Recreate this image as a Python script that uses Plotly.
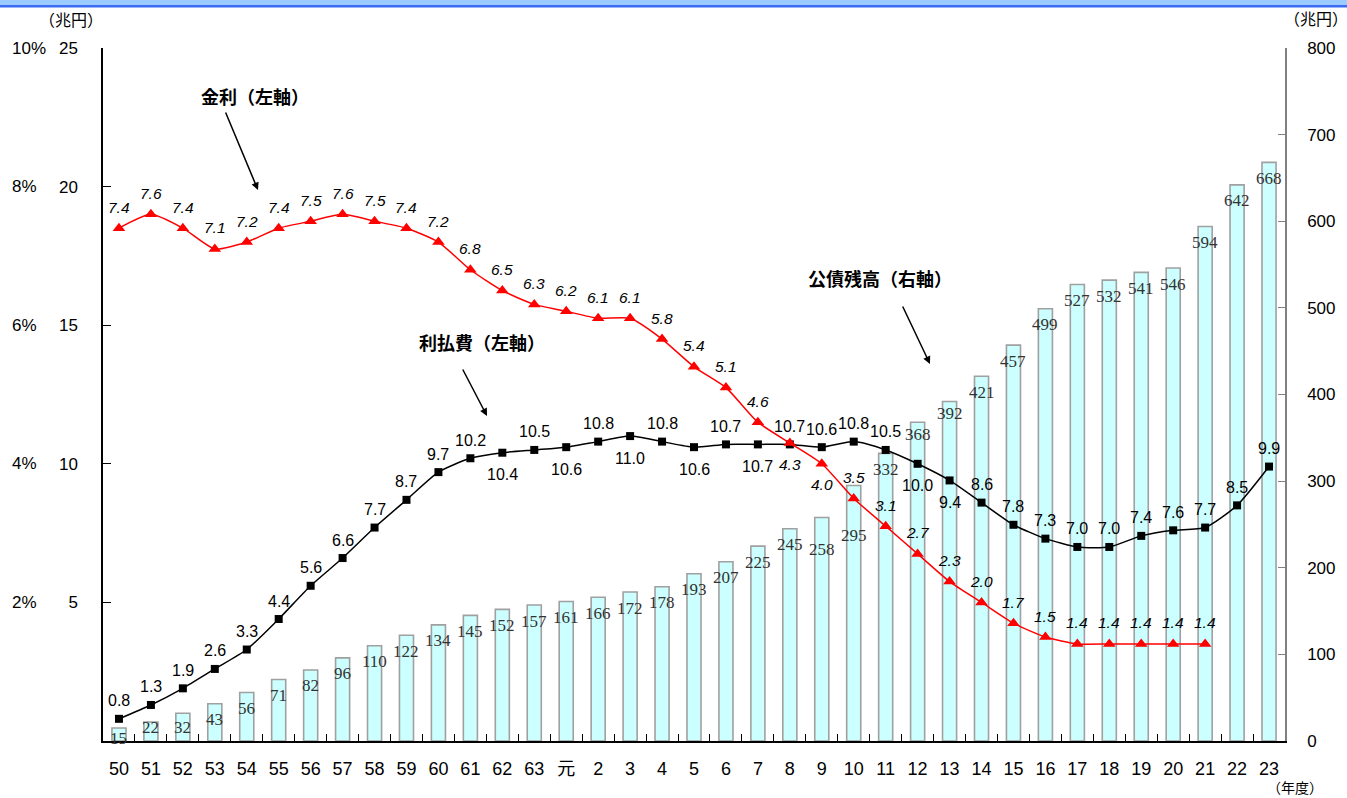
import plotly.graph_objects as go

# Fiscal years: Showa 50-63, Heisei 元-23
years = ["50", "51", "52", "53", "54", "55", "56", "57", "58", "59", "60", "61", "62", "63",
         "元", "2", "3", "4", "5", "6", "7", "8", "9", "10", "11", "12", "13", "14", "15",
         "16", "17", "18", "19", "20", "21", "22", "23"]

# 公債残高 (兆円, right axis)
debt = [15, 22, 32, 43, 56, 71, 82, 96, 110, 122, 134, 145, 152, 157, 161, 166, 172, 178,
        193, 207, 225, 245, 258, 295, 332, 368, 392, 421, 457, 499, 527, 532, 541, 546,
        594, 642, 668]

# 利払費 (兆円, left axis)
interest_pay = [0.8, 1.3, 1.9, 2.6, 3.3, 4.4, 5.6, 6.6, 7.7, 8.7, 9.7, 10.2, 10.4, 10.5,
                10.6, 10.8, 11.0, 10.8, 10.6, 10.7, 10.7, 10.7, 10.6, 10.8, 10.5, 10.0, 9.4,
                8.6, 7.8, 7.3, 7.0, 7.0, 7.4, 7.6, 7.7, 8.5, 9.9]

# 金利 (%, left axis, 10% = 25兆円) for years 50 .. 21
rate = [7.4, 7.6, 7.4, 7.1, 7.2, 7.4, 7.5, 7.6, 7.5, 7.4, 7.2, 6.8, 6.5, 6.3, 6.2, 6.1,
        6.1, 5.8, 5.4, 5.1, 4.6, 4.3, 4.0, 3.5, 3.1, 2.7, 2.3, 2.0, 1.7, 1.5, 1.4, 1.4,
        1.4, 1.4, 1.4]
rate_years = years[:len(rate)]

left_ticks = [5, 10, 15, 20, 25]
pct_ticks = ["2%", "4%", "6%", "8%", "10%"]
right_ticks = [0, 100, 200, 300, 400, 500, 600, 700, 800]

# label placement (1 = above the point, -1 = below)
pay_side = [1] * len(interest_pay)
for k in (12, 14, 16, 18, 20, 25, 26):
    pay_side[k] = -1
rate_side = [1] * len(rate)
for k in (21, 22):
    rate_side[k] = -1
# vertical nudge (px) of debt labels below bar tops
debt_shift = [-16] * len(debt)
debt_shift[0], debt_shift[1], debt_shift[2] = -10, -6, -14
debt_shift[22], debt_shift[23] = -32, -50
debt_shift[25], debt_shift[26] = -12, -12

W, H = 1347, 798
L, R, T, B = 103, 1285, 48, 741
RATE_SCALE = 25 / 10  # 10% on the rate scale equals 25 兆円


def px(x):
    return (x - L) / (R - L)


def py(y):
    return (B - y) / (B - T)


SANS = "Liberation Sans, Noto Sans CJK JP, sans-serif"
CJK = "Noto Sans CJK JP, sans-serif"
SERIF = "Liberation Serif, DejaVu Serif, serif"

fig = go.Figure()

fig.add_trace(go.Bar(
    x=years, y=debt, yaxis="y", width=0.44,
    marker=dict(color="#CCFFFF", line=dict(color="#A0A0A0", width=1.6)),
    name="公債残高", hoverinfo="x+y",
))

fig.add_trace(go.Scatter(
    x=years, y=interest_pay, yaxis="y2", mode="lines+markers",
    line=dict(color="black", width=1.5, shape="spline", smoothing=0.6),
    marker=dict(symbol="square", size=8, color="black"),
    name="利払費",
))

fig.add_trace(go.Scatter(
    x=rate_years, y=[r * RATE_SCALE for r in rate], yaxis="y2", mode="lines+markers",
    line=dict(color="#FF0000", width=1.5, shape="spline", smoothing=0.6),
    marker=dict(symbol="triangle-up", size=11, color="#FF0000"),
    name="金利", customdata=rate, hovertemplate="%{x}: %{customdata}%<extra></extra>",
))

# value labels; x given as category index so numeric-looking names stay in place
ann = []
for i, v in enumerate(debt):
    ann.append(dict(x=i, y=v, xref="x", yref="y", text=str(v), showarrow=False,
                    yanchor="middle", yshift=debt_shift[i],
                    font=dict(family=SERIF, size=17, color="#333333")))
for i, v in enumerate(interest_pay):
    ann.append(dict(x=i, y=v, xref="x", yref="y2", text=f"{v:.1f}", showarrow=False,
                    yanchor="middle", yshift=18 if pay_side[i] > 0 else -22,
                    font=dict(family=SANS, size=16, color="black")))
for i, v in enumerate(rate):
    ann.append(dict(x=i, y=v * RATE_SCALE, xref="x", yref="y2", text=f"<i>{v:.1f}</i>",
                    showarrow=False, yanchor="middle",
                    yshift=21 if rate_side[i] > 0 else -21,
                    font=dict(family=SANS, size=15.5, color="black")))

# percent labels beside the left-axis values
for t, p in zip(left_ticks, pct_ticks):
    ann.append(dict(x=px(10), y=t, xref="paper", yref="y2", text=p, showarrow=False,
                    xanchor="left", yanchor="middle",
                    font=dict(family=SANS, size=17, color="black")))

# unit captions
for x, y, txt in [(71, 19, "（兆円）"), (1316, 18, "（兆円）")]:
    ann.append(dict(x=px(x), y=py(y), xref="paper", yref="paper", text=txt,
                    showarrow=False, xanchor="center", yanchor="middle",
                    font=dict(family=CJK, size=16, color="black")))
ann.append(dict(x=px(1295), y=py(799), xref="paper", yref="paper", text="（年度）",
                showarrow=False, xanchor="center", yanchor="bottom",
                font=dict(family=CJK, size=14, color="black")))

# series callouts with arrows
callouts = [
    ((255, 96), "金利（左軸）", (225, 111), (258, 190)),
    ((482, 342), "利払費（左軸）", (462, 368), (487, 416)),
    ((880, 278), "公債残高（右軸）", (902, 305), (930, 364)),
]
for (cx, cy), txt, (tx, ty), (hx, hy) in callouts:
    ann.append(dict(x=px(cx), y=py(cy), xref="paper", yref="paper",
                    text=f"<b>{txt}</b>", showarrow=False,
                    xanchor="center", yanchor="middle",
                    font=dict(family=CJK, size=18, color="black")))
    ann.append(dict(x=px(hx), y=py(hy), xref="paper", yref="paper", text="",
                    showarrow=True, ax=tx - hx, ay=ty - hy, axref="pixel", ayref="pixel",
                    arrowhead=2, arrowsize=1, arrowwidth=1.5, arrowcolor="black"))

shapes = [
    dict(type="rect", xref="paper", yref="paper", x0=px(0), x1=px(W), y0=py(0), y1=py(5),
         fillcolor="#9CCBFF", line=dict(width=0), layer="above"),
    dict(type="rect", xref="paper", yref="paper", x0=px(0), x1=px(W), y0=py(5), y1=py(7.5),
         fillcolor="#3A6CF4", line=dict(width=0), layer="above"),
]

fig.update_layout(
    width=W, height=H,
    margin=dict(l=L, r=W - R, t=T, b=H - B, pad=0),
    paper_bgcolor="white", plot_bgcolor="white",
    showlegend=False, bargap=0.5,
    xaxis=dict(type="category", categoryorder="array", categoryarray=years,
               range=[-0.5, len(years) - 0.5],
               showline=True, linecolor="black", linewidth=1.5,
               ticks="inside", tickson="boundaries", ticklen=7, tickcolor="black",
               tickwidth=1, ticklabelstandoff=11, showgrid=False,
               tickfont=dict(family=SANS, size=18, color="black")),
    yaxis=dict(side="right", range=[0, 800], tickvals=right_ticks,
               showline=True, linecolor="#808080", linewidth=1.5,
               ticks="inside", ticklen=7, tickcolor="#808080", showgrid=False,
               zeroline=False, ticklabelstandoff=17,
               tickfont=dict(family=SANS, size=17, color="black")),
    yaxis2=dict(side="left", overlaying="y", range=[0, 25], tickvals=left_ticks,
                showline=True, linecolor="black", linewidth=1.5,
                ticks="inside", ticklen=8, tickcolor="black", showgrid=False,
                zeroline=False, ticklabelstandoff=20,
                tickfont=dict(family=SANS, size=17, color="black")),
    annotations=ann,
    shapes=shapes,
)

fig.write_html("out.html")
